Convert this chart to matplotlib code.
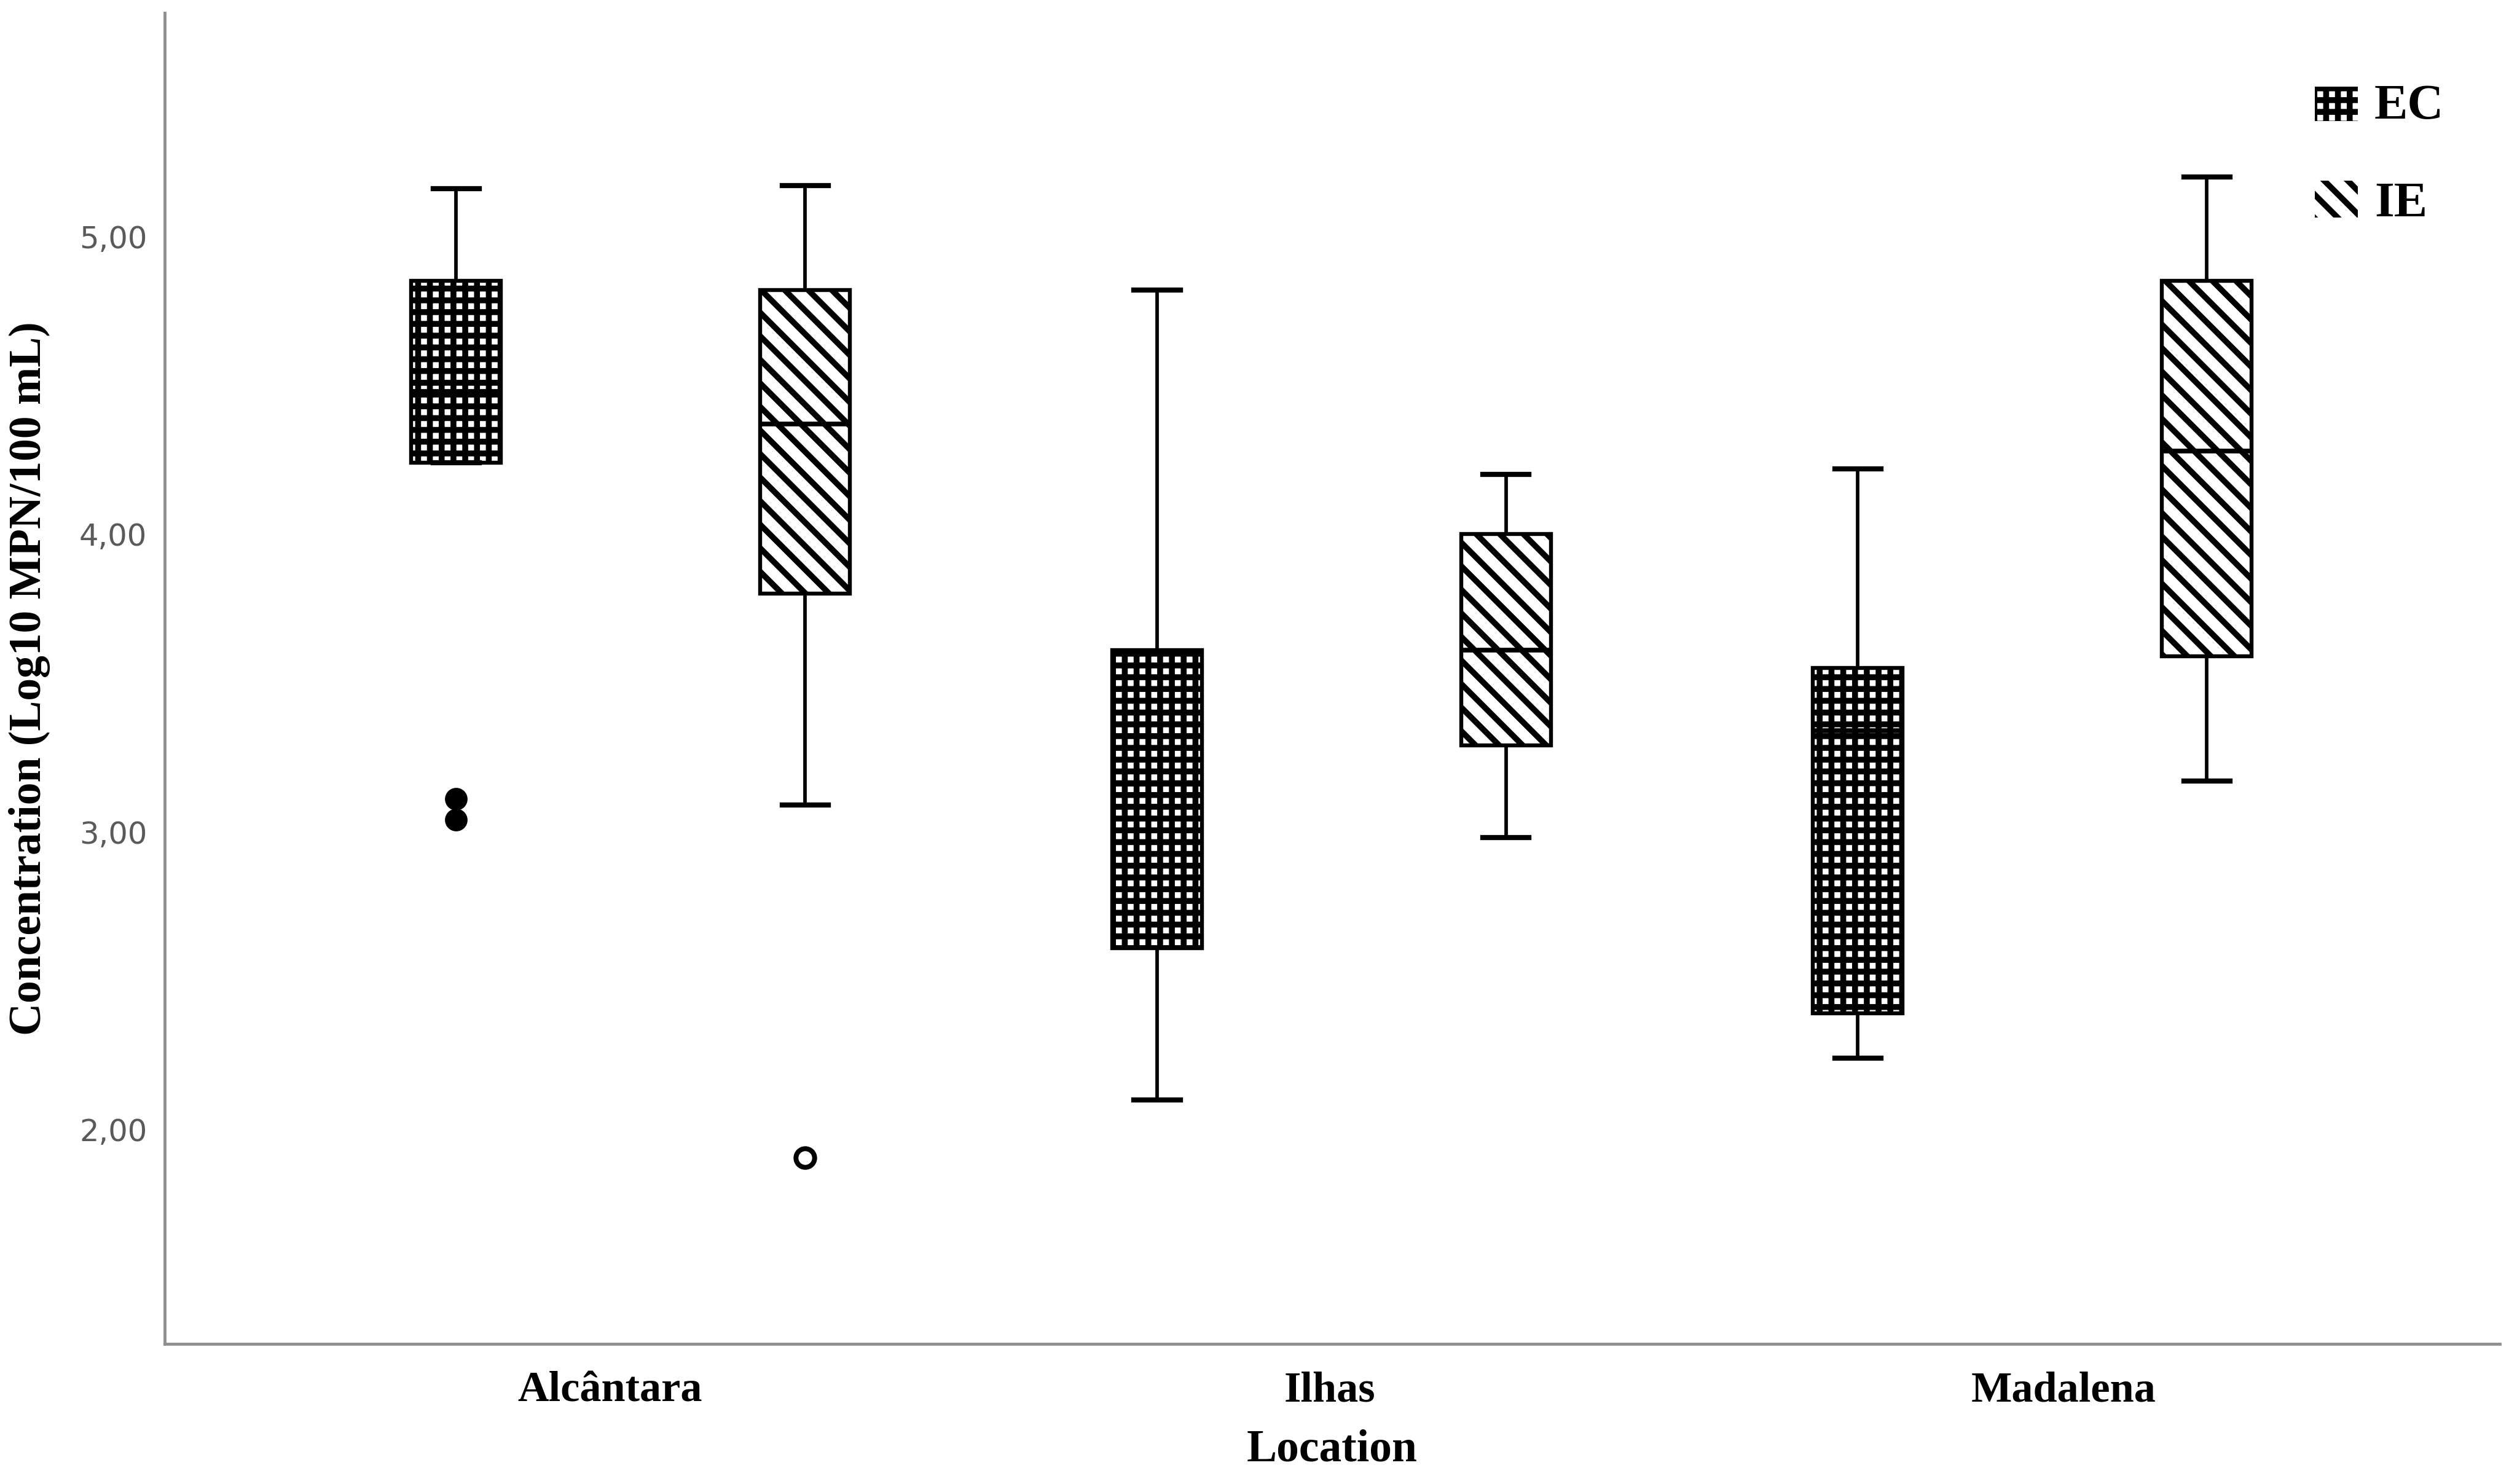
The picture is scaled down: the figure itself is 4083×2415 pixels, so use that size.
import matplotlib
matplotlib.use("Agg")
import matplotlib.pyplot as plt
from matplotlib.patches import Rectangle

# ---------------- data ----------------
locations = ["Alcântara", "Ilhas", "Madalena"]
groups = ["EC", "IE"]

ec_whislo = [4.24, 2.10, 2.24]
ec_q1     = [4.24, 2.61, 2.39]
ec_med    = [4.48, 3.16, 3.34]
ec_q3     = [4.85, 3.61, 3.55]
ec_whishi = [5.16, 4.82, 4.22]
ec_fliers = [[3.11, 3.04], [], []]

ie_whislo = [3.09, 2.98, 3.17]
ie_q1     = [3.80, 3.29, 3.59]
ie_med    = [4.37, 3.61, 4.28]
ie_q3     = [4.82, 4.00, 4.85]
ie_whishi = [5.17, 4.20, 5.20]
ie_fliers = [[1.905], [], []]

y_ticks = [2.0, 3.0, 4.0, 5.0]
y_tick_labels = ["2,00", "3,00", "4,00", "5,00"]

# ---------------- layout ----------------
W, H = 4083, 2415
DPI = 230
fig = plt.figure(figsize=(W / DPI, H / DPI), dpi=DPI)
ax = fig.add_axes([268 / W, 1 - 2187 / H, (4068 - 268) / W, (2187 - 21) / H])

offset = 0.249
box_w = 0.128
cap_w = 0.066
label_shift = [-0.03, -0.003, 0.045]

HATCH_EC = "++"
HATCH_IE = "\\\\"
HLW_EC = 3.0
HLW_IE = 3.0

SERIF = ["Liberation Serif", "DejaVu Serif"]


def make_stats(wlo, q1, med, q3, whi, fl):
    return [dict(whislo=a, q1=b, med=c, q3=d, whishi=e, fliers=f)
            for a, b, c, d, e, f in zip(wlo, q1, med, q3, whi, fl)]


ec_stats = make_stats(ec_whislo, ec_q1, ec_med, ec_q3, ec_whishi, ec_fliers)
ie_stats = make_stats(ie_whislo, ie_q1, ie_med, ie_q3, ie_whishi, ie_fliers)

common = dict(
    widths=box_w, capwidths=cap_w, patch_artist=True, showfliers=True,
    boxprops=dict(facecolor="white", edgecolor="black", linewidth=2.0),
    medianprops=dict(color="black", linewidth=2.4),
    whiskerprops=dict(color="black", linewidth=1.8),
    capprops=dict(color="black", linewidth=2.6),
    manage_ticks=False,
)

ec_pos = [i - offset for i in range(len(locations))]
ie_pos = [i + offset for i in range(len(locations))]

bp_ec = ax.bxp(ec_stats, positions=ec_pos,
               flierprops=dict(marker="o", markerfacecolor="black",
                               markeredgecolor="black", markersize=11,
                               markeredgewidth=0.5),
               **common)
bp_ie = ax.bxp(ie_stats, positions=ie_pos,
               flierprops=dict(marker="o", markerfacecolor="white",
                               markeredgecolor="black", markersize=9.5,
                               markeredgewidth=2.5),
               **common)


def style_hatch(p, hatch, lw):
    p.set_hatch(hatch)
    if hasattr(p, "set_hatch_linewidth"):
        p.set_hatch_linewidth(lw)


for b in bp_ec["boxes"]:
    style_hatch(b, HATCH_EC, HLW_EC)
for b in bp_ie["boxes"]:
    style_hatch(b, HATCH_IE, HLW_IE)

ax.set_xlim(-0.665, 2.667)
ax.set_ylim(1.28, 5.751)

ax.set_xticks([i + s for i, s in enumerate(label_shift)])
ax.set_xticklabels(locations, fontfamily=SERIF, fontweight="bold", fontsize=22)
ax.set_yticks(y_ticks)
ax.set_yticklabels(y_tick_labels, fontfamily=["DejaVu Sans"], fontsize=15.5, color="#5a5a5a")
ax.tick_params(axis="x", length=0, pad=14)
ax.tick_params(axis="y", length=0, pad=9)

for s in ["top", "right"]:
    ax.spines[s].set_visible(False)
for s in ["left", "bottom"]:
    ax.spines[s].set_color("#8f8f8f")
    ax.spines[s].set_linewidth(1.5)

ax.set_xlabel("Location", fontfamily=SERIF, fontweight="bold", fontsize=23)
ax.set_ylabel("Concentration (Log10 MPN/100 mL)", fontfamily=SERIF,
              fontweight="bold", fontsize=23)
ax.xaxis.set_label_coords(0.5, -0.064)
ax.yaxis.set_label_coords(-0.049, 0.5)


# ---------------- legend (drawn as swatches + text in figure pixels) ----------------
def fx(px):
    return px / W


def fy(py):
    return 1 - py / H


legend_rows = [
    (groups[0], HATCH_EC, HLW_EC, (3767, 141, 70, 56), 193),
    (groups[1], HATCH_IE, HLW_IE, (3767, 294, 70, 60), 352),
]
for label, hatch, hlw, (x0, y0, w, h), base in legend_rows:
    r = Rectangle((fx(x0), fy(y0 + h)), w / W, h / H, transform=fig.transFigure,
                  facecolor="white", edgecolor="black", linewidth=0, hatch=hatch)
    if hasattr(r, "set_hatch_linewidth"):
        r.set_hatch_linewidth(hlw)
    fig.add_artist(r)
    fig.text(fx(3864), fy(base), label, ha="left", va="baseline",
             fontfamily=SERIF, fontweight="bold", fontsize=25.5)

fig.savefig("out.png", dpi=DPI, facecolor="white")
